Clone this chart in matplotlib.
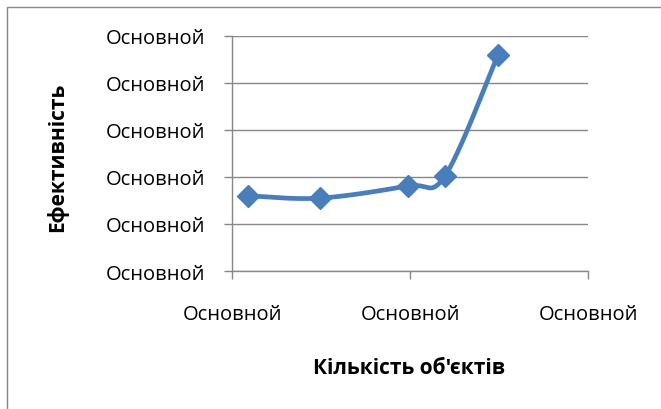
import matplotlib as mpl
import matplotlib.pyplot as plt
import matplotlib.patches as mpatches
import numpy as np

mpl.rcParams.update(
    {
        "font.family": ["Open Sans", "DejaVu Sans"],
        "font.size": 14,
    }
)

# data (x in % of axis span, y in gridline units)
OBJ_COUNT = [4.5, 24.7, 49.4, 59.8, 74.7]
EFFICIENCY = [1.60, 1.55, 1.81, 2.02, 4.60]
X_TICKS = [0, 50, 100]
Y_TICKS = [0, 1, 2, 3, 4, 5]
TICK_TEXT = "Основной"
X_LABEL = "Кількість об'єктів"
Y_LABEL = "Ефективність"

LINE_COL = "#4A7EBB"
GRID_COL = "#878787"


def catmull_rom(xs, ys, n=40):
    # smooth curve through points, like Excel's "smoothed line"
    xs = np.asarray(xs, float)
    ys = np.asarray(ys, float)
    px = np.concatenate([[xs[0]], xs, [xs[-1]]])
    py = np.concatenate([[ys[0]], ys, [ys[-1]]])
    out_x, out_y = [], []
    t = np.linspace(0, 1, n)
    for i in range(1, len(px) - 2):
        p0, p1, p2, p3 = (np.array([px[j], py[j]]) for j in (i - 1, i, i + 1, i + 2))
        c1 = p1 + (p2 - p0) / 6
        c2 = p2 - (p3 - p1) / 6
        b = (
            ((1 - t) ** 3)[:, None] * p1
            + (3 * (1 - t) ** 2 * t)[:, None] * c1
            + (3 * (1 - t) * t**2)[:, None] * c2
            + (t**3)[:, None] * p2
        )
        out_x.extend(b[:, 0])
        out_y.extend(b[:, 1])
    return np.array(out_x), np.array(out_y)


fig = plt.figure(figsize=(6.61, 4.10), dpi=100)
W, H = 661, 410
ax = fig.add_axes([232 / W, 1 - 272 / H, (588 - 232) / W, (272 - 37) / H])

sx, sy = catmull_rom(OBJ_COUNT, EFFICIENCY)
ax.plot(sx, sy, color=LINE_COL, linewidth=3.4, solid_capstyle="round", zorder=3, clip_on=False)
ax.plot(OBJ_COUNT, EFFICIENCY, linestyle="none", marker="D", markersize=11.5,
        color=LINE_COL, zorder=4, clip_on=False)

ax.set_xlim(0, 100)
ax.set_ylim(0, 5)
ax.set_xticks(X_TICKS)
ax.set_xticklabels([TICK_TEXT] * len(X_TICKS))
ax.set_yticks(Y_TICKS)
ax.set_yticklabels([TICK_TEXT] * len(Y_TICKS))
ax.yaxis.grid(True, color=GRID_COL, linewidth=1.0)
ax.set_axisbelow(True)

for s in ("top", "right"):
    ax.spines[s].set_visible(False)
for s in ("left", "bottom"):
    ax.spines[s].set_color(GRID_COL)
    ax.spines[s].set_linewidth(1.0)
ax.tick_params(axis="both", colors=GRID_COL, labelcolor="black", length=6, width=1.0,
               labelsize=14.5)
ax.tick_params(axis="y", pad=13)
ax.tick_params(axis="x", pad=18)

fig.text(409 / W, 1 - 369 / H, X_LABEL, fontweight="bold", fontsize=15,
         ha="center", va="center")
fig.text(57 / W, 1 - 157 / H, Y_LABEL, rotation=90, fontweight="bold", fontsize=15,
         ha="center", va="center")

# chart area border (extends past the right/bottom edge)
fig.patches.append(mpatches.Rectangle((7 / W, -0.1), 1.2, 1 - 8 / H + 0.1,
                                      transform=fig.transFigure, fill=False,
                                      edgecolor=GRID_COL, linewidth=1.0))

fig.savefig("out.png", dpi=100)
